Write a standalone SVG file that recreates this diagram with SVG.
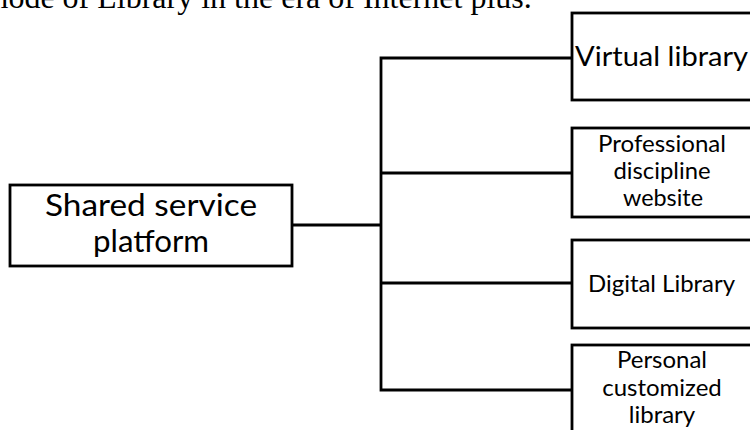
<svg xmlns="http://www.w3.org/2000/svg" width="750" height="430" viewBox="0 0 750 430">
<style>
.box{fill:#fff;stroke:#000;stroke-width:2.8}
.ln{fill:none;stroke:#000;stroke-width:2.8;stroke-linecap:square}
.t{font-family:Lato,"Liberation Sans",sans-serif;fill:#000;text-anchor:middle}
.cap{font-family:"Liberation Serif","Times New Roman",serif;font-size:32px;fill:#000}
</style>
<rect width="750" height="430" fill="#fff"/>
<text class="cap" x="-16.5" y="8">mode of Library in the era of Internet plus.</text>
<g id="connectors">
<path class="ln" d="M292,225 H381 M381,58 V390 M381,58 H572 M381,173 H572 M381,283 H572 M381,390 H572"/>
</g>
<g id="shared">
<rect class="box" x="10" y="185" width="282" height="81"/>
<text class="t" x="151" y="216" font-size="30" textLength="212" lengthAdjust="spacingAndGlyphs">Shared service</text>
<text class="t" x="151" y="252" font-size="30" textLength="116" lengthAdjust="spacingAndGlyphs">platform</text>
</g>
<g id="virtual">
<rect class="box" x="572" y="13" width="220" height="87"/>
<text class="t" x="661.5" y="66" font-size="27" textLength="173" lengthAdjust="spacingAndGlyphs">Virtual library</text>
</g>
<g id="professional">
<rect class="box" x="572" y="128" width="220" height="89"/>
<text class="t" x="662" y="152" font-size="24" textLength="128" lengthAdjust="spacingAndGlyphs">Professional</text>
<text class="t" x="662" y="179" font-size="24" textLength="97" lengthAdjust="spacingAndGlyphs">discipline</text>
<text class="t" x="663" y="206" font-size="24" textLength="80" lengthAdjust="spacingAndGlyphs">website</text>
</g>
<g id="digital">
<rect class="box" x="572" y="240" width="220" height="88"/>
<text class="t" x="661.5" y="292" font-size="24" textLength="147" lengthAdjust="spacingAndGlyphs">Digital Library</text>
</g>
<g id="personal">
<rect class="box" x="572" y="345" width="220" height="120"/>
<text class="t" x="662" y="368" font-size="24">Personal</text>
<text class="t" x="662" y="396" font-size="24">customized</text>
<text class="t" x="662" y="423" font-size="24">library</text>
</g>
</svg>
